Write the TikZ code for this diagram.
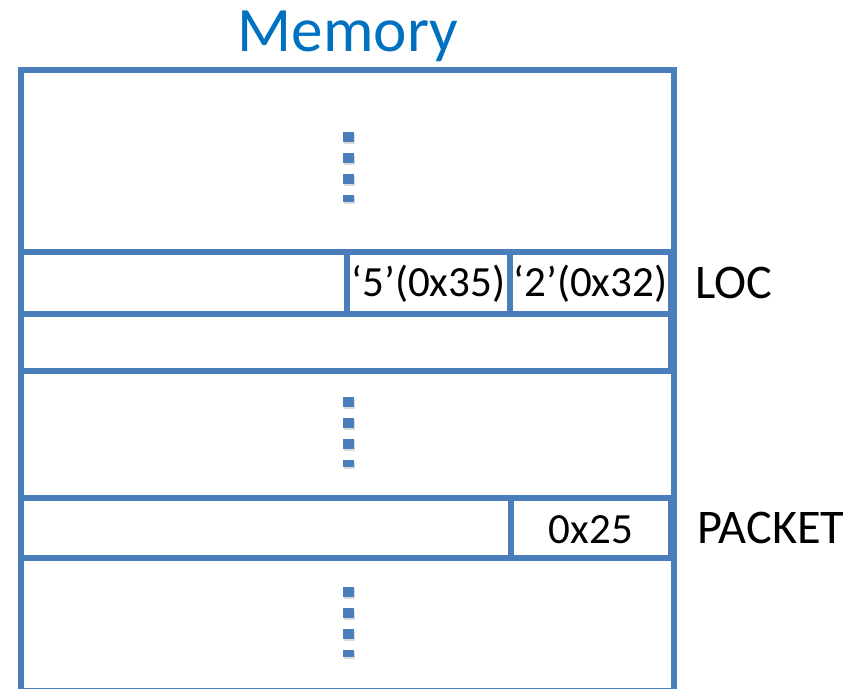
\documentclass[tikz,border=0pt]{standalone}
\usepackage{fontspec}
\setmainfont{Carlito}

\definecolor{memline}{RGB}{74,126,187}
\definecolor{memtitle}{RGB}{0,112,192}

\tikzset{
  shade line/.style={preaction={draw=black!40, opacity=0.45,
      transform canvas={shift={(0.7pt,-1.3pt)}}}},
  shade fill/.style={preaction={fill=black!40, opacity=0.35,
      transform canvas={shift={(0.5pt,-1.2pt)}}}},
  memrow/.style={draw=memline, line width=3.2pt, shade line},
  memdot/.style={fill=memline, shade fill},
  celltext/.style={anchor=base, inner sep=0pt, font=\fontsize{24.5}{28}\selectfont},
  memlabel/.style={anchor=base west, inner sep=0pt, font=\fontsize{27.5}{31}\selectfont},
}

\begin{document}
\begin{tikzpicture}[x=0.02cm, y=-0.02cm]
  \useasboundingbox (0,0) rectangle (856,689);

  % Title
  \node[anchor=base, text=memtitle, font=\fontsize{36}{40}\selectfont] (title) at (348,52) {Memory};

  % Outer memory block (runs off the bottom)
  \draw[memrow, line width=3.6pt] (21,70) rectangle (674,691);

  % LOC row with its two bytes
  \draw[memrow] (21,252) rectangle (671,314);
  \draw[memrow] (347,252) rectangle (510,314);
  \draw[memrow] (510,252) rectangle (671,314);
  \node[celltext] (c5) at (428.5,297) {‘5’(0x35)};
  \node[celltext] (c2) at (590.5,297) {‘2’(0x32)};

  % next word
  \draw[memrow] (21,314) rectangle (671,371);

  % PACKET row
  \draw[memrow] (21,498) rectangle (671,558);
  \draw[memrow] (511,498) rectangle (671,558);
  \node[celltext] (c25) at (591,543) {0x25};

  % Labels
  \node[memlabel] (loc) at (695,299) {LOC};
  \node[memlabel] (packet) at (697,543) {PACKET};

  % Vertical dots
  \foreach \y in {132,397,587} {
    \foreach \k in {0,1,2}
      \fill[memdot] (343,\y+21*\k) rectangle (354,\y+21*\k+10);
    \fill[memdot] (343,\y+63) rectangle (354,\y+70);
  }
\end{tikzpicture}
\end{document}
